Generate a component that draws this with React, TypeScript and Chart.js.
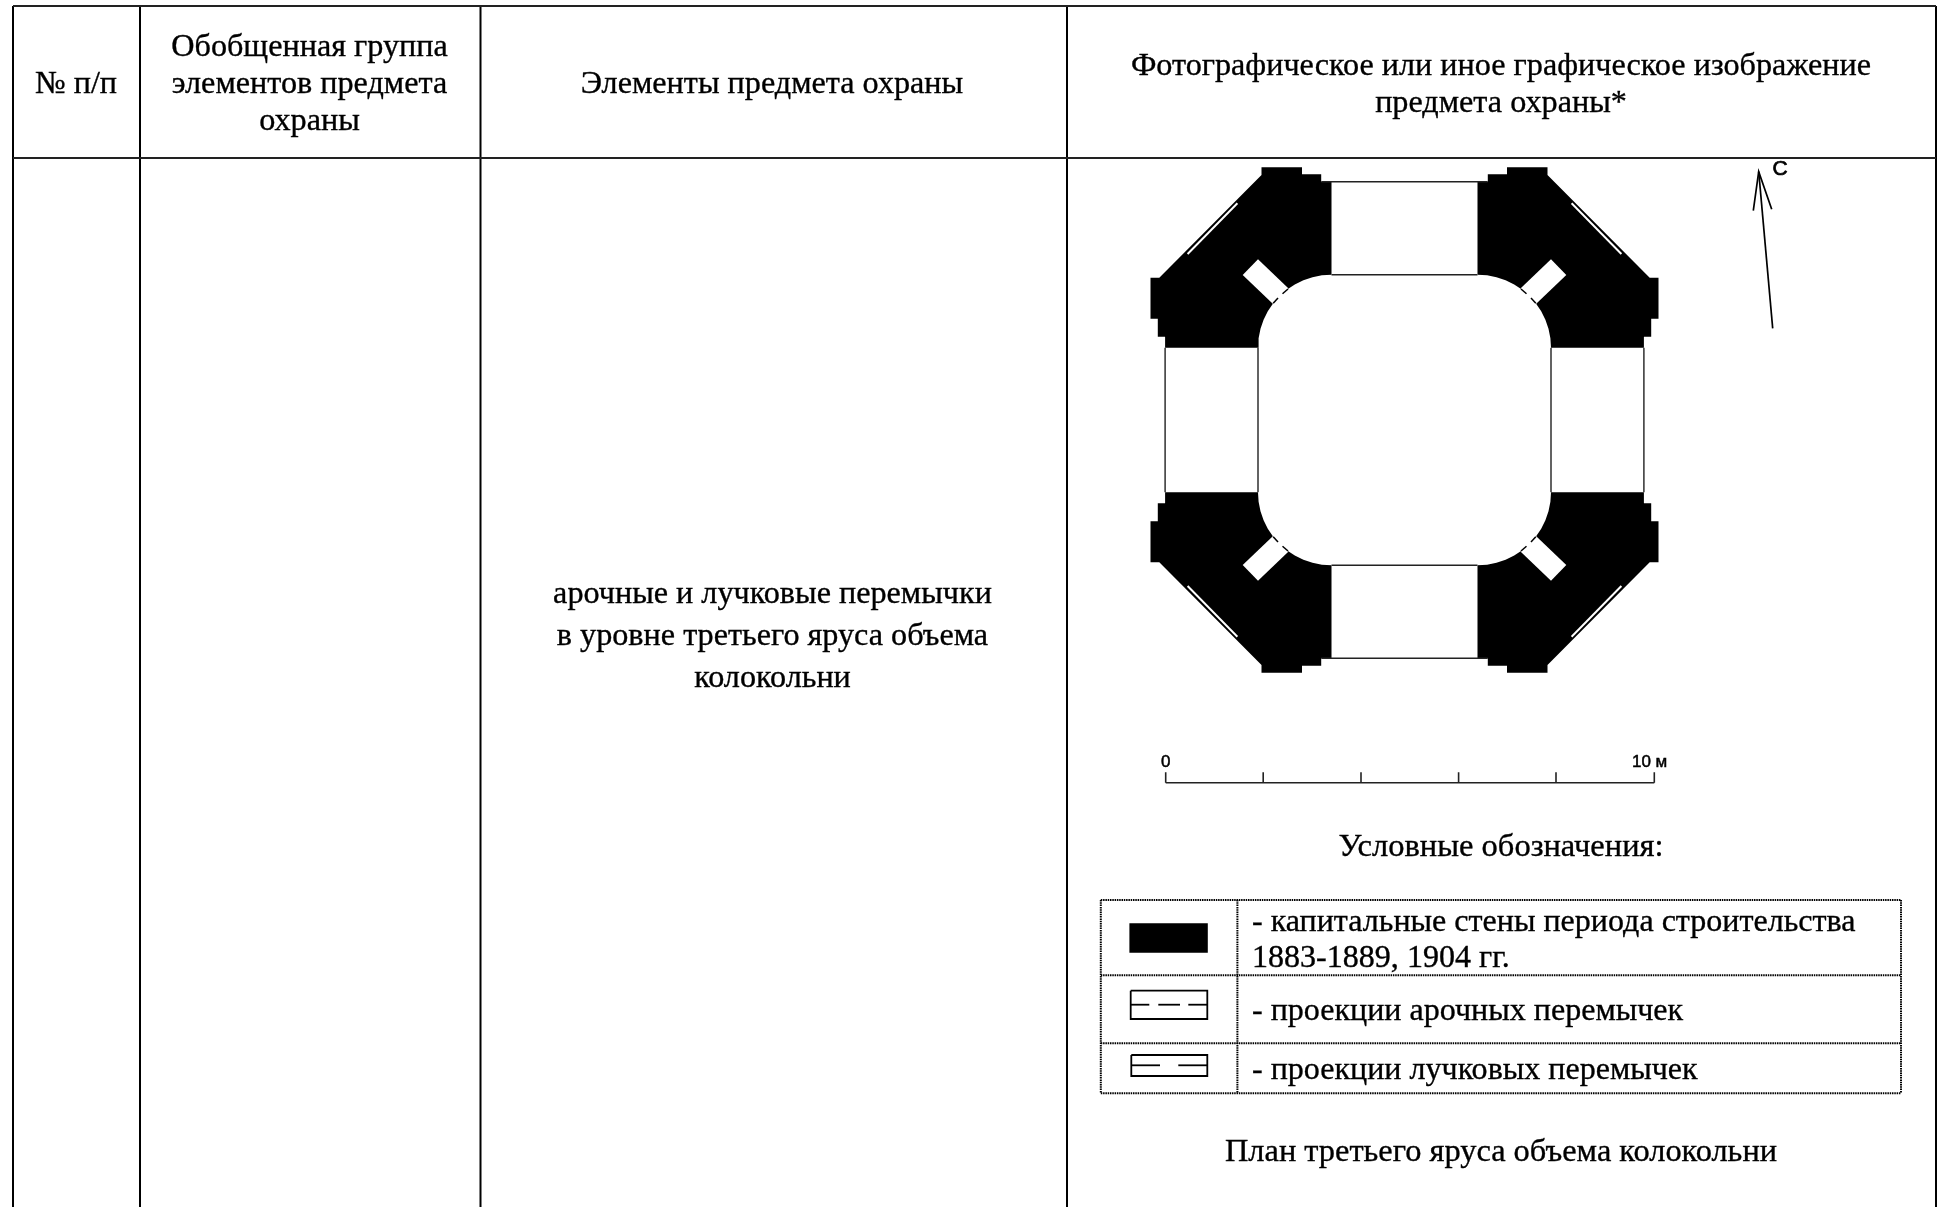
import React, { useEffect, useRef } from "react";
import { Chart, registerables } from "chart.js";

Chart.register(...registerables);

const WIDTH = 1941;
const HEIGHT = 1207;

// Table frame
const tableColumnX = [13, 140, 480.5, 1067, 1936];
const tableTopY = 6;
const tableHeaderY = 158;

const wallXWest = [1331.5, 1321.2, 1321.2, 1302, 1302, 1261.5, 1261.5, 1159.3, 1150.5, 1150.5, 1157.8, 1157.8, 1165.1, 1165.1, 1258, 1258.6, 1260.5, 1263.6, 1267.8, 1273.2, 1279.5, 1286.8, 1294.8, 1303.4, 1312.5, 1321.9, 1331.5];
const wallXEast = [1477.5, 1487.8, 1487.8, 1507, 1507, 1547.5, 1547.5, 1649.7, 1658.5, 1658.5, 1651.2, 1651.2, 1643.9, 1643.9, 1551, 1550.4, 1548.5, 1545.4, 1541.2, 1535.8, 1529.5, 1522.2, 1514.2, 1505.6, 1496.5, 1487.1, 1477.5];
const wallYNorth = [182, 182, 174.3, 174.3, 167.3, 167.3, 175, 277.7, 277.7, 318.7, 318.7, 336.7, 336.7, 347.7, 347.7, 338.2, 328.8, 319.8, 311.2, 303.3, 296.1, 289.8, 284.5, 280.3, 277.2, 275.3, 274.7];
const wallYSouth = [658, 658, 665.7, 665.7, 672.7, 672.7, 665, 562.3, 562.3, 521.3, 521.3, 503.3, 503.3, 492.3, 492.3, 501.8, 511.2, 520.2, 528.8, 536.7, 543.9, 550.2, 555.5, 559.7, 562.8, 564.7, 565.3];

// Diagonal niches
const nicheXWest = [1258, 1242.7, 1274.1, 1288.3];
const nicheXEast = [1551, 1566.3, 1534.9, 1520.7];
const nicheYNorth = [259.3, 275, 305, 288.3];
const nicheYSouth = [580.7, 565, 535, 551.7];

// Arc stubs across the niche mouths
const stubAXWest = [1273.2, 1278];
const stubBXWest = [1282.5, 1288];
const stubAXEast = [1535.8, 1531];
const stubBXEast = [1526.5, 1521];
const stubAYNorth = [303.3, 298];
const stubBYNorth = [293.8, 289];
const stubAYSouth = [536.7, 542];
const stubBYSouth = [546.2, 551];

// White slits in the diagonal faces
const slitXWest = [1187.6, 1237.4];
const slitXEast = [1621.4, 1571.6];
const slitYNorth = [254, 203.3];
const slitYSouth = [586, 636.7];

// Door outlines
const doorNorthX = [1321.2, 1487.8];
const doorInnerNorthX = [1331.5, 1477.5];
const doorOuterNorthY = 181.7;
const doorInnerNorthY = 274.8;
const doorInnerSouthY = 565.2;
const doorOuterSouthY = 658.3;
const doorWestOuterX = 1165.1;
const doorWestInnerX = 1258;
const doorEastInnerX = 1551;
const doorEastOuterX = 1643.9;
const doorSideY = [347.7, 492.3];

// North arrow
const arrowShaftX = [1758.7, 1772.7];
const arrowShaftY = [171.7, 328.3];
const arrowHeadX = [1753.3, 1758.7, 1771.7];
const arrowHeadY = [210.7, 171.7, 209.3];

// Scale bar
const scaleTickX = [1165.7, 1263.2, 1361, 1458.6, 1556, 1654.3];
const scaleBaseY = 782.7;
const scaleTopY = 772.3;

// Legend table
const legendColumnX = [1100.8, 1237.4, 1901];
const legendRowY = [900, 975.3, 1043.3, 1093.3];
const swatchWallX = [1129.4, 1207.8, 1207.8, 1129.4];
const swatchWallY = [923.3, 923.3, 952.7, 952.7];
const swatchArchX = [1130.7, 1207.3, 1207.3, 1130.7, 1130.7];
const swatchArchY = [990.7, 990.7, 1019, 1019, 990.7];
const swatchArchMidY = 1004.7;
const swatchArchDashes = [[1130.7, 1149.3], [1158.3, 1180], [1188.3, 1207.3]];
const swatchBowX = [1131.3, 1207.3, 1207.3, 1131.3, 1131.3];
const swatchBowY = [1055, 1055, 1076, 1076, 1055];
const swatchBowMidY = 1065.3;
const swatchBowDashes = [[1131.3, 1160], [1178.3, 1207.3]];

// Text
const SERIF = '"Liberation Serif", "Times New Roman", serif';
const SANS = '"Liberation Sans", Arial, sans-serif';
type Label = { text: string; x: number; y: number; size: number; align: CanvasTextAlign; font: string; heavy: number };
const BODY = 32.2;
const LEGEND = 32.05;
const labels: Label[] = [
  { text: "№ п/п", x: 76, y: 85, size: BODY, align: "center", font: SERIF, heavy: 0.35 },
  { text: "Обобщенная группа", x: 309.5, y: 48, size: BODY, align: "center", font: SERIF, heavy: 0.35 },
  { text: "элементов предмета", x: 309.5, y: 85, size: BODY, align: "center", font: SERIF, heavy: 0.35 },
  { text: "охраны", x: 309.5, y: 122, size: BODY, align: "center", font: SERIF, heavy: 0.35 },
  { text: "Элементы предмета охраны", x: 772, y: 85, size: BODY, align: "center", font: SERIF, heavy: 0.35 },
  { text: "Фотографическое или иное графическое изображение", x: 1501, y: 66.5, size: BODY, align: "center", font: SERIF, heavy: 0.35 },
  { text: "предмета охраны*", x: 1501, y: 103.5, size: BODY, align: "center", font: SERIF, heavy: 0.35 },
  { text: "арочные и лучковые перемычки", x: 772.5, y: 595, size: BODY, align: "center", font: SERIF, heavy: 0.35 },
  { text: "в уровне третьего яруса объема", x: 772.5, y: 637, size: BODY, align: "center", font: SERIF, heavy: 0.35 },
  { text: "колокольни", x: 772.5, y: 679, size: BODY, align: "center", font: SERIF, heavy: 0.35 },
  { text: "Условные обозначения:", x: 1501, y: 847.6, size: 32.5, align: "center", font: SERIF, heavy: 0.35 },
  { text: "- капитальные стены периода строительства", x: 1252, y: 923, size: LEGEND, align: "left", font: SERIF, heavy: 0.35 },
  { text: "1883-1889, 1904 гг.", x: 1252, y: 959, size: LEGEND, align: "left", font: SERIF, heavy: 0.35 },
  { text: "- проекции арочных перемычек", x: 1252, y: 1012, size: LEGEND, align: "left", font: SERIF, heavy: 0.35 },
  { text: "- проекции лучковых перемычек", x: 1252, y: 1071, size: LEGEND, align: "left", font: SERIF, heavy: 0.35 },
  { text: "План третьего яруса объема колокольни", x: 1501, y: 1152, size: 32.4, align: "center", font: SERIF, heavy: 0.35 },
  { text: "С", x: 1780, y: 169, size: 21, align: "center", font: SANS, heavy: 0.7 },
  { text: "0", x: 1165.7, y: 762, size: 17, align: "center", font: SANS, heavy: 0.5 },
  { text: "10 м", x: 1649.6, y: 762, size: 17, align: "center", font: SANS, heavy: 0.5 },
];

const zip = (xs: number[], ys: number[]) => xs.map((x, i) => ({ x, y: ys[i] }));

const line = (xs: number[], ys: number[], color: string, width: number, dash: number[] = []) => ({
  data: zip(xs, ys),
  borderColor: color,
  borderWidth: width,
  borderDash: dash,
  showLine: true,
  fill: false,
  pointRadius: 0,
  tension: 0,
  clip: false,
});

const shape = (xs: number[], ys: number[], color: string) => ({
  data: zip(xs, ys),
  borderColor: color,
  borderWidth: 0,
  backgroundColor: color,
  showLine: true,
  fill: "shape",
  pointRadius: 0,
  tension: 0,
  clip: false,
});

const labelPlugin = {
  id: "pageText",
  afterDraw(chart: Chart) {
    const { ctx, scales } = chart;
    ctx.save();
    ctx.fillStyle = "#000";
    ctx.strokeStyle = "#000";
    ctx.textBaseline = "middle";
    for (const l of labels) {
      ctx.font = `${l.size}px ${l.font}`;
      ctx.textAlign = l.align;
      const px = scales.x.getPixelForValue(l.x);
      const py = scales.y.getPixelForValue(l.y);
      ctx.lineWidth = l.heavy;
      ctx.fillText(l.text, px, py);
      ctx.strokeText(l.text, px, py);
    }
    ctx.restore();
  },
};

const backgroundPlugin = {
  id: "pageBackground",
  beforeDraw(chart: Chart) {
    chart.ctx.save();
    chart.ctx.fillStyle = "#fff";
    chart.ctx.fillRect(0, 0, chart.width, chart.height);
    chart.ctx.restore();
  },
};

export default function App() {
  const ref = useRef<HTMLCanvasElement>(null);

  useEffect(() => {
    if (!ref.current) return;
    const INK = "#000";
    const THIN = "#222";
    const DOT = "#000";
    // Chart.js paints the first dataset last: overlays come first.
    const datasets: any[] = [
      // Legend swatches and rules
      line(swatchArchDashes[0], [swatchArchMidY, swatchArchMidY], INK, 1.8),
      line(swatchArchDashes[1], [swatchArchMidY, swatchArchMidY], INK, 1.8),
      line(swatchArchDashes[2], [swatchArchMidY, swatchArchMidY], INK, 1.8),
      line(swatchArchX, swatchArchY, INK, 1.8),
      line(swatchBowDashes[0], [swatchBowMidY, swatchBowMidY], INK, 1.8),
      line(swatchBowDashes[1], [swatchBowMidY, swatchBowMidY], INK, 1.8),
      line(swatchBowX, swatchBowY, INK, 1.8),
      shape(swatchWallX, swatchWallY, INK),
      ...legendRowY.map((y) => line([legendColumnX[0], legendColumnX[2]], [y, y], DOT, 2, [1.5, 0.8])),
      ...legendColumnX.map((x) => line([x, x], [legendRowY[0], legendRowY[3]], DOT, 2, [1.5, 0.8])),

      // Scale bar
      line([scaleTickX[0], scaleTickX[5]], [scaleBaseY, scaleBaseY], THIN, 1.6),
      ...scaleTickX.map((x) => line([x, x], [scaleTopY, scaleBaseY], THIN, 1.6)),

      // North arrow
      line(arrowShaftX, arrowShaftY, INK, 1.7),
      line(arrowHeadX, arrowHeadY, INK, 1.7),

      // Door outlines
      line(doorNorthX, [doorOuterNorthY, doorOuterNorthY], THIN, 1.4),
      line(doorInnerNorthX, [doorInnerNorthY, doorInnerNorthY], THIN, 1.4),
      line(doorInnerNorthX, [doorInnerSouthY, doorInnerSouthY], THIN, 1.4),
      line(doorNorthX, [doorOuterSouthY, doorOuterSouthY], THIN, 1.4),
      line([doorWestOuterX, doorWestOuterX], doorSideY, THIN, 1.4),
      line([doorWestInnerX, doorWestInnerX], doorSideY, THIN, 1.4),
      line([doorEastInnerX, doorEastInnerX], doorSideY, THIN, 1.4),
      line([doorEastOuterX, doorEastOuterX], doorSideY, THIN, 1.4),

      // Arc stubs over the niches
      line(stubAXWest, stubAYNorth, INK, 1.5),
      line(stubBXWest, stubBYNorth, INK, 1.5),
      line(stubAXEast, stubAYNorth, INK, 1.5),
      line(stubBXEast, stubBYNorth, INK, 1.5),
      line(stubAXWest, stubAYSouth, INK, 1.5),
      line(stubBXWest, stubBYSouth, INK, 1.5),
      line(stubAXEast, stubAYSouth, INK, 1.5),
      line(stubBXEast, stubBYSouth, INK, 1.5),

      // Slits and niches, white on the walls
      line(slitXWest, slitYNorth, "#fff", 2),
      line(slitXEast, slitYNorth, "#fff", 2),
      line(slitXWest, slitYSouth, "#fff", 2),
      line(slitXEast, slitYSouth, "#fff", 2),
      shape(nicheXWest, nicheYNorth, "#fff"),
      shape(nicheXEast, nicheYNorth, "#fff"),
      shape(nicheXWest, nicheYSouth, "#fff"),
      shape(nicheXEast, nicheYSouth, "#fff"),

      // Walls
      shape(wallXWest, wallYNorth, INK),
      shape(wallXEast, wallYNorth, INK),
      shape(wallXWest, wallYSouth, INK),
      shape(wallXEast, wallYSouth, INK),

      // Table frame
      line([tableColumnX[0], tableColumnX[4]], [tableTopY, tableTopY], "#222", 2.2),
      line([tableColumnX[0], tableColumnX[4]], [tableHeaderY, tableHeaderY], "#222", 2),
      ...tableColumnX.map((x) => line([x, x], [tableTopY, HEIGHT], INK, 2)),
    ];

    const chart = new Chart(ref.current, {
      type: "scatter",
      data: { datasets },
      plugins: [backgroundPlugin, labelPlugin],
      options: {
        animation: false,
        responsive: false,
        events: [],
        layout: { padding: 0 },
        plugins: { legend: { display: false }, tooltip: { enabled: false } },
        scales: {
          x: { type: "linear", display: false, min: 0, max: WIDTH },
          y: { type: "linear", display: false, min: 0, max: HEIGHT, reverse: true },
        },
      },
    });
    return () => chart.destroy();
  }, []);

  return (
    <canvas
      ref={ref}
      width={WIDTH}
      height={HEIGHT}
      style={{ position: "absolute", left: 0, top: 0, display: "block" }}
    />
  );
}
